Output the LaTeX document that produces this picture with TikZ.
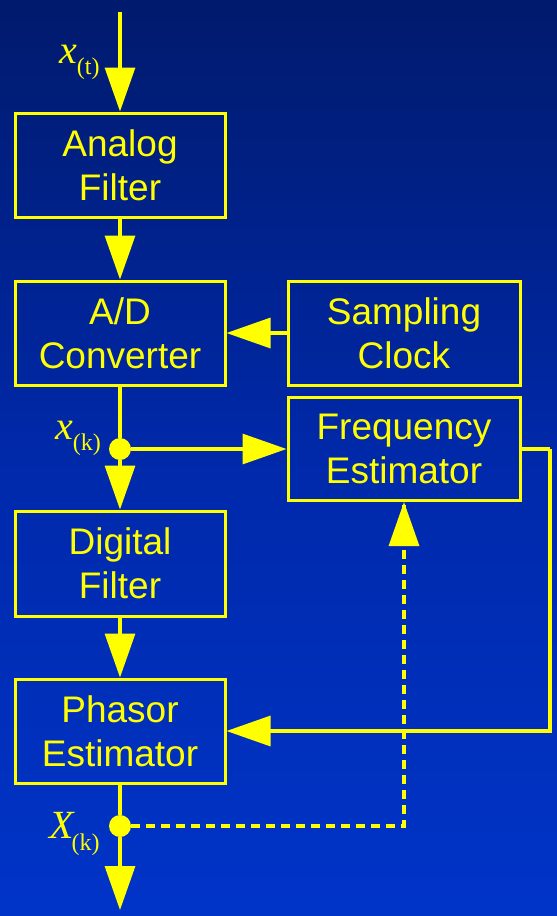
\documentclass[tikz,border=0pt]{standalone}
\usepackage{fontspec}
\setmainfont{Liberation Serif}
\setsansfont{Liberation Sans}
\usetikzlibrary{arrows.meta}
\definecolor{yel}{HTML}{FFFF00}
\definecolor{bgtop}{HTML}{001A6C}
\definecolor{bgmid}{HTML}{0029AA}
\definecolor{bgbot}{HTML}{0034C8}
\begin{document}
\begin{tikzpicture}[x=1pt,y=-1pt,
  blk/.style={draw=yel, line width=3pt, text=yel, align=center, inner sep=0pt,
    font=\sffamily\fontsize{37}{44}\selectfont},
  lnk/.style={draw=yel, line width=3.2pt},
  arr/.style={lnk, -{Triangle[length=44pt,width=30pt]}},
  dashlnk/.style={lnk, dash pattern=on 9pt off 6pt},
  dotn/.style={circle, fill=yel, minimum size=22pt, inner sep=0pt},
  lbl/.style={text=yel, inner sep=0pt, anchor=base west}
]
\shade[top color=bgtop, bottom color=bgbot, middle color=bgmid] (0,0) rectangle (557,916);
\useasboundingbox (0,0) rectangle (557,916);

\node[blk, minimum width=210pt, minimum height=104pt] (af) at (120,165) {Analog\\Filter};
\node[blk, minimum width=210pt, minimum height=104pt] (ad) at (120,333) {A/D\\Converter};
\node[blk, minimum width=232pt, minimum height=104pt] (sc) at (404,333) {Sampling\\Clock};
\node[blk, minimum width=232pt, minimum height=103pt] (fe) at (404,449) {Frequency\\Estimator};
\node[blk, minimum width=210pt, minimum height=105pt] (df) at (120,563.5) {Digital\\Filter};
\node[blk, minimum width=210pt, minimum height=104pt] (ph) at (120,731) {Phasor\\Estimator};

\node[dotn] (d1) at (120,449) {};
\node[dotn] (d2) at (120,826) {};
\coordinate (top) at (120,12);
\coordinate (bot) at (120,910);
\coordinate (fbr) at (550,449);

\draw[arr] (top) -- (af.north);
\draw[arr] (af) -- (ad);
\draw[arr] (sc) -- (ad);
\draw[lnk] (ad) -- (d1);
\draw[arr] (d1) -- (fe);
\draw[arr] (d1) -- (df);
\draw[arr] (df) -- (ph);
\draw[lnk] (fe.east) -- (fbr);
\draw[arr] (fbr) |- (ph.east);
\draw[lnk] (ph) -- (d2);
\draw[arr] (d2) -- (bot);
\draw[dashlnk] (d2) -| (fe.south);
\draw[arr] (404,546) -- (fe.south);

\node[lbl] (lxt) at (59,63) {\fontsize{40}{40}\selectfont\itshape x\fontsize{24}{24}\selectfont\upshape\raisebox{-11pt}{(t)}};
\node[lbl] (lxk) at (55,439) {\fontsize{40}{40}\selectfont\itshape x\fontsize{24}{24}\selectfont\upshape\raisebox{-11pt}{(k)}};
\node[lbl] (lXk) at (49,838) {\fontsize{40}{40}\selectfont\itshape X\hspace{-2pt}\fontsize{24}{24}\selectfont\upshape\raisebox{-12pt}{(k)}};
\end{tikzpicture}
\end{document}
